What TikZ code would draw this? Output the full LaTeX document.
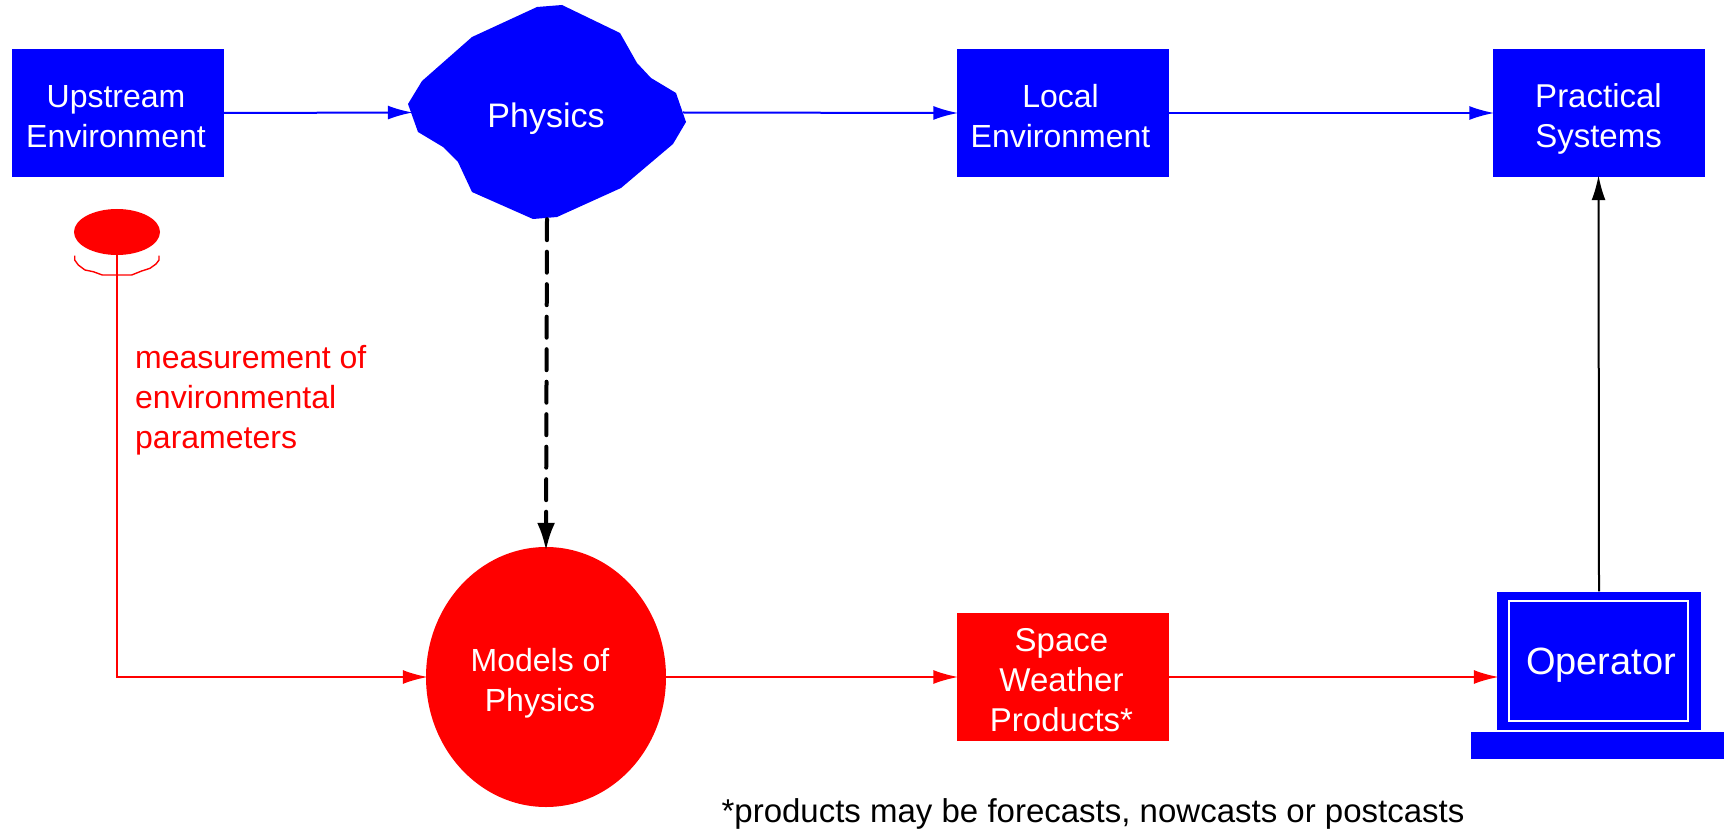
\documentclass[tikz,border=0pt]{standalone}
\usepackage{fontspec}
\setmainfont{Liberation Sans}
\usetikzlibrary{arrows.meta,shapes.geometric}
\definecolor{pblue}{RGB}{0,0,255}
\definecolor{pred}{RGB}{255,0,0}
\tikzset{
  x=1pt,y=-1pt,
  box/.style={rectangle,inner sep=0pt,minimum width=212pt,minimum height=128pt},
  bluebox/.style={box,fill=pblue},
  redbox/.style={box,fill=pred},
  lbl/.style={inner sep=0pt,align=center,font=\fontsize{32}{40}\selectfont},
  whitelbl/.style={lbl,text=white},
  tip/.style={-{Latex[length=25pt,width=14pt]},shorten >=-2pt},
  blueline/.style={line width=2pt,tip,color=pblue},
  redline/.style={line width=2pt,tip,color=pred},
  blackline/.style={line width=2pt,tip,color=black},
  dashline/.style={draw=black,line width=4pt,line cap=round,dash pattern=on 21pt off 11.5pt,shorten >=-4pt,-{Latex[length=28pt,width=18pt]}},
}
\begin{document}
\begin{tikzpicture}
\useasboundingbox (0,0) rectangle (1724,829);
% nodes
\node[bluebox,label={[whitelbl,xshift=-2pt,yshift=-3.5pt]center:Upstream\\Environment}] (upstream) at (118,113) {};
\node[bluebox,label={[whitelbl,xshift=-2pt,yshift=-3pt]center:Local\\Environment}] (local) at (1062.5,113) {};
\node[bluebox,label={[whitelbl,font=\fontsize{33}{40}\selectfont,yshift=-5.5pt]center:Practical\\Systems}] (practical) at (1598.5,113) {};
\fill[pblue] (537,7) -- (562,5) -- (620,33) -- (637,63) -- (651,78) -- (676,93) -- (686,122) -- (673,144) -- (621,188) -- (557,217) -- (533,219) -- (472,192) -- (458,162) -- (443,147) -- (418,132) -- (408,104) -- (422,81) -- (472,37) -- cycle;
\node[inner sep=0pt,minimum width=272pt,minimum height=213pt] (physics) at (547,112.5) {};
\node[whitelbl,font=\fontsize{34}{40}\selectfont] (physicslabel) at (546,119) {Physics};
\node[ellipse,fill=pred,inner sep=0pt,minimum width=86pt,minimum height=46pt] (sensor) at (117,232) {};
\draw[pred,line width=1.4pt] (74.7,255.7) -- (74.7,260) -- (78.3,265) -- (85,270) -- (93.3,271.7) -- (102.3,275) -- (131.7,275) -- (141.7,271) -- (150,268.3) -- (156,264) -- (159,260) -- (159,255.7);
\node[ellipse,fill=pred,inner sep=0pt,minimum width=240pt,minimum height=260pt,label={[whitelbl,xshift=-6pt,yshift=-6pt]center:Models of\\Physics}] (models) at (546,677) {};
\node[redbox,label={[whitelbl,font=\fontsize{33}{40}\selectfont,xshift=-1pt,yshift=-3.5pt]center:Space\\Weather\\Products*}] (products) at (1062.5,677) {};
\node[rectangle,fill=pblue,inner sep=0pt,minimum width=204pt,minimum height=138pt] (operator) at (1599,660.5) {};
\node[rectangle,draw=white,line width=1.5pt,inner sep=0pt,minimum width=179pt,minimum height=120pt] (screen) at (1598.5,661) {};
\node[whitelbl,font=\fontsize{38}{46}\selectfont] (operatorlabel) at (1601,665) {Operator};
\node[rectangle,fill=pblue,inner sep=0pt,minimum width=253pt,minimum height=27pt] (keyboard) at (1597.5,745.5) {};
\node[lbl,text=pred,align=left,anchor=north west] (measure) at (135,345) {measurement of\\environmental\\parameters};
\node[lbl,font=\fontsize{33}{40}\selectfont] (note) at (1093,814) {*products may be forecasts, nowcasts or postcasts};
% connectors
\draw[blueline] (upstream.east) -- (physics.west);
\draw[blueline] (physics.east) -- (local.west);
\draw[blueline] (local.east) -- (practical.west);
\draw[blackline] (operator.north) -- (practical.south);
\draw[dashline] (physics.south) -- (models.north);
\draw[redline] (sensor.south) |- (models.west);
\draw[redline] (models.east) -- (products.west);
\draw[redline] (products.east) -- (products.east -| operator.west);
\end{tikzpicture}
\end{document}
